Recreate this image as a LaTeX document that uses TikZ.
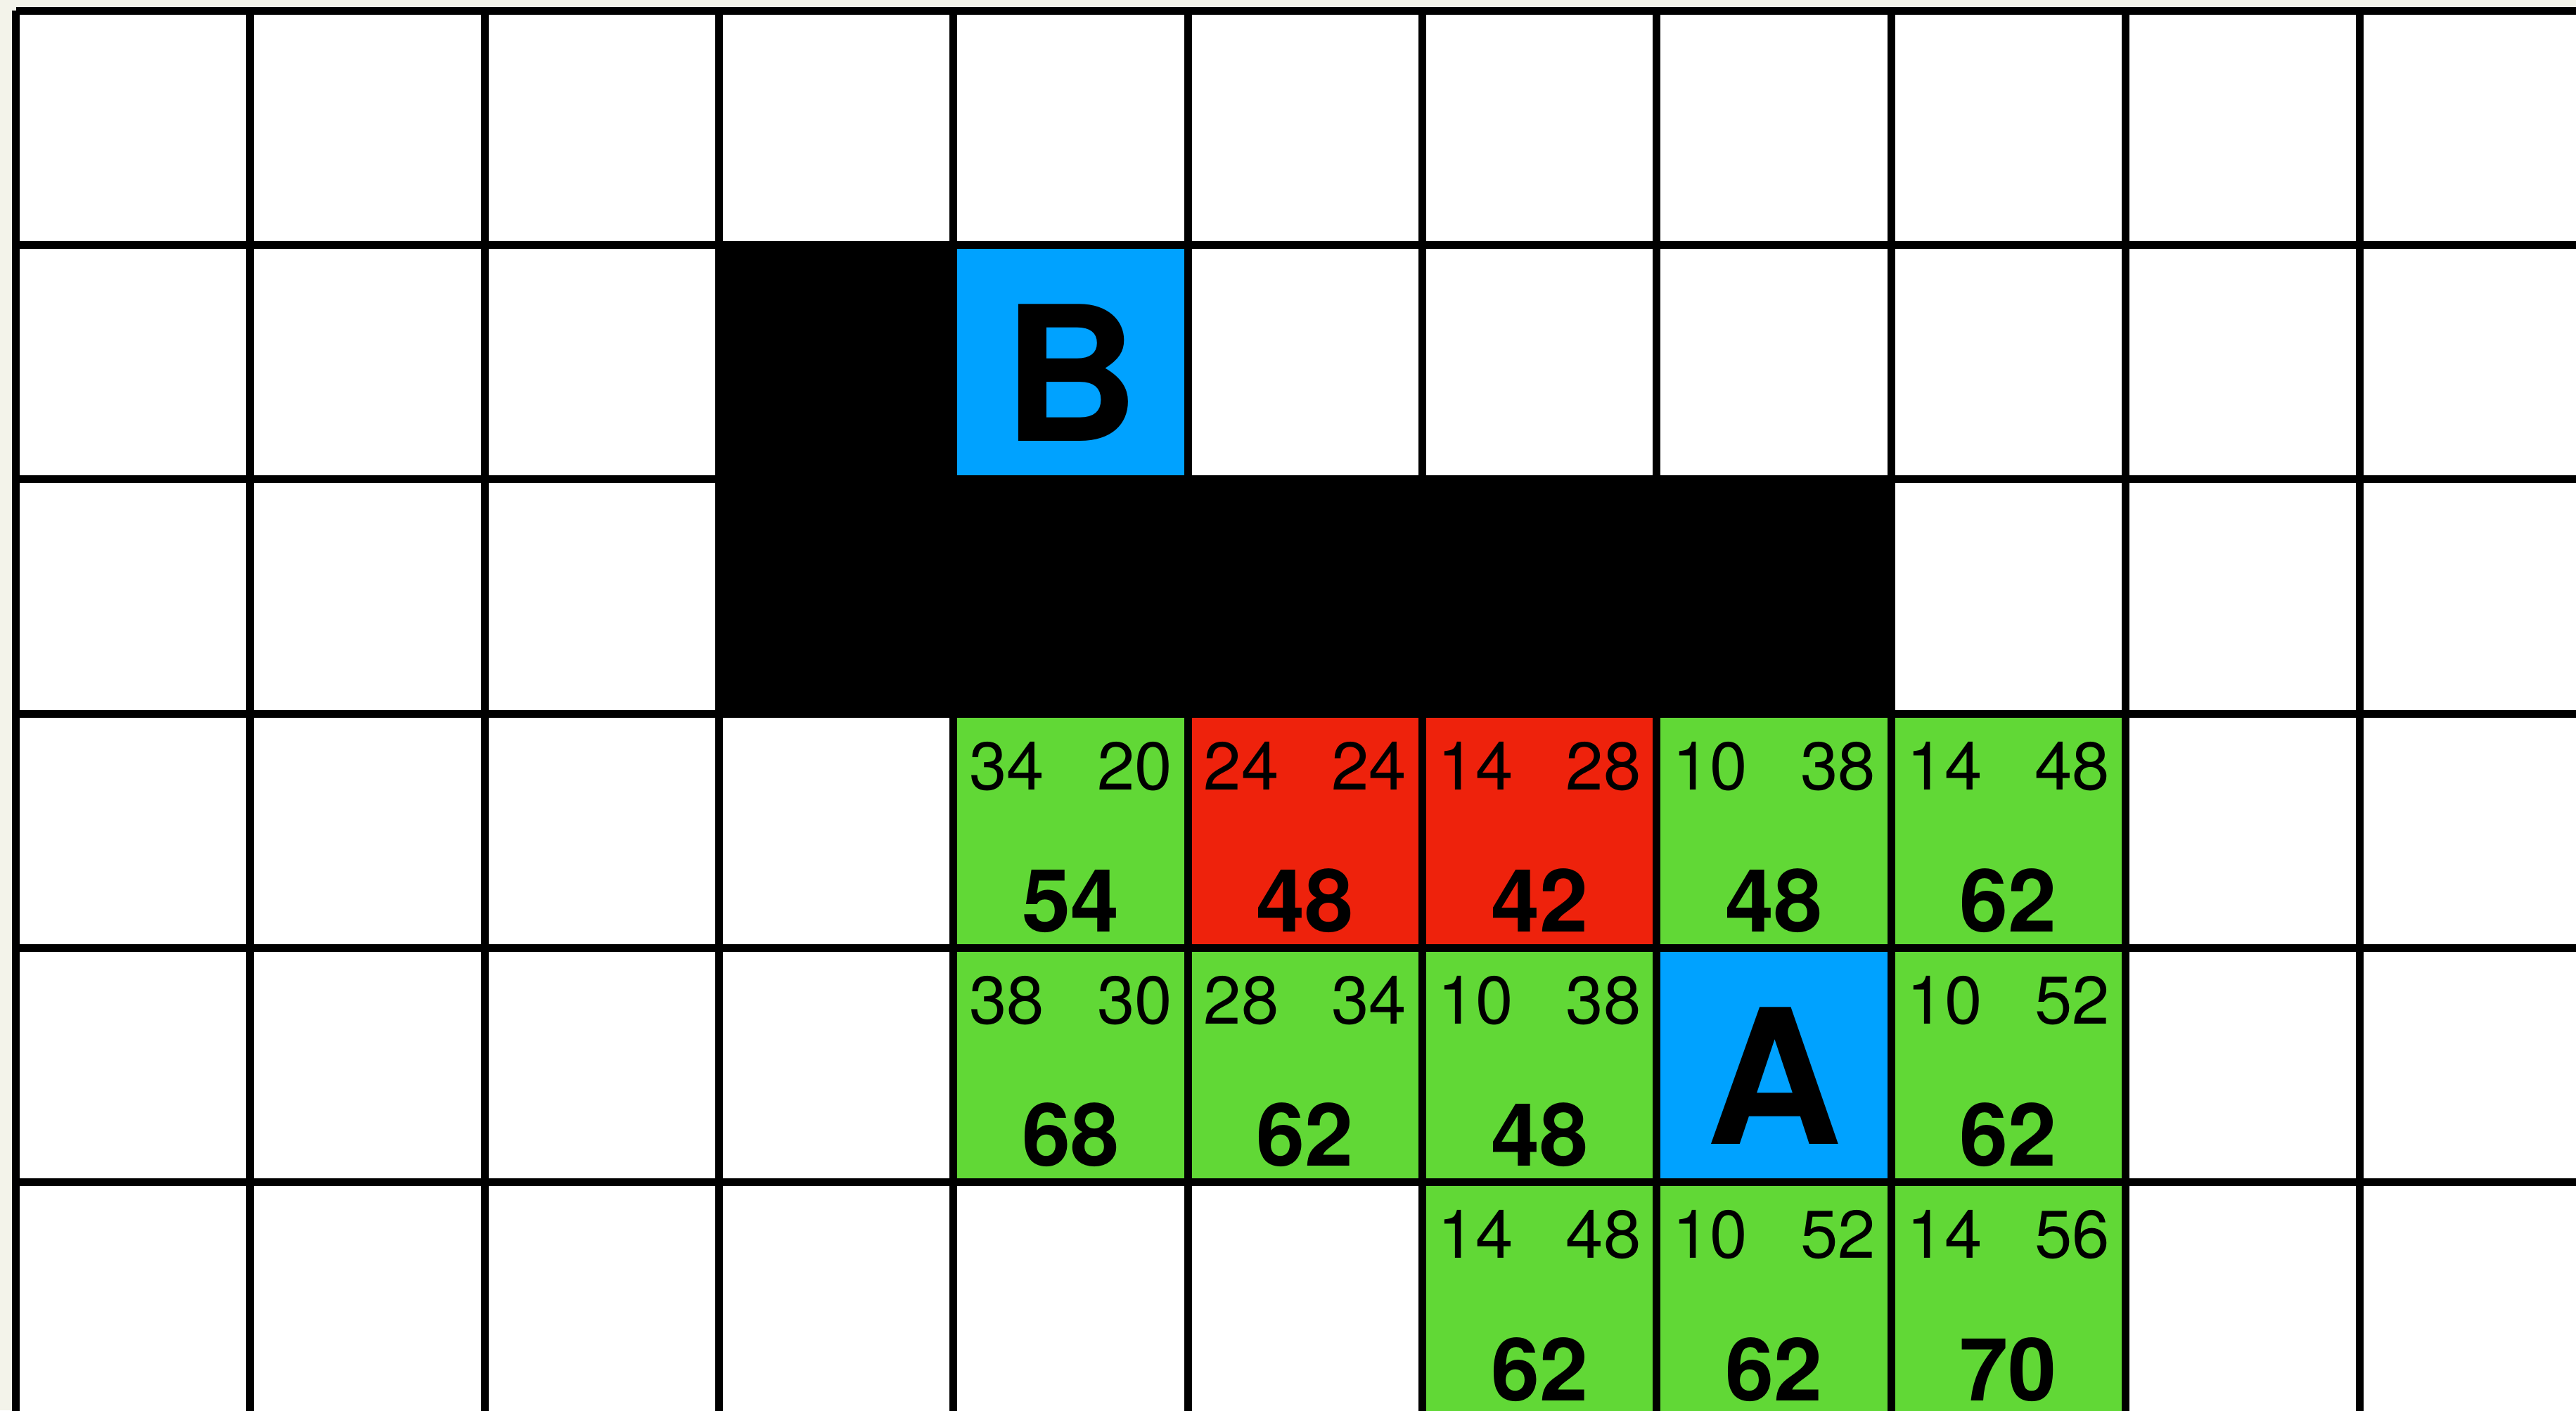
\documentclass[tikz,border=0pt]{standalone}
\usepackage{fontspec}
\setmainfont{TeX Gyre Heros}
\definecolor{cellgreen}{HTML}{61D836}
\definecolor{cellred}{HTML}{EE220C}
\definecolor{cellblue}{HTML}{00A2FF}
\definecolor{paper}{HTML}{F3F3EA}
\tikzset{
  gridline/.style={line width=0.94pt, black},
  costsmall/.style={inner sep=0pt, font=\fontsize{8.2pt}{9pt}\selectfont},
  costbig/.style={inner sep=0pt, anchor=base, font=\fontsize{10.6pt}{12pt}\selectfont\bfseries},
  endletter/.style={inner sep=0pt, anchor=base, font=\fontsize{22.8pt}{26pt}\selectfont\bfseries}
}
\begin{document}
\begin{tikzpicture}[x=1cm,y=-1cm]
\useasboundingbox (-0.0675,-0.045) rectangle (10.921,5.973);
\clip (-0.0675,-0.045) rectangle (10.921,5.973);
\fill[paper] (-0.0675,-0.045) rectangle (10.921,5.973);
\fill[white] (0,0) rectangle (11.5,6.5);
% walls
\fill[black] (3,1) rectangle (4,2);
\fill[black] (3,2) rectangle (8,3);
% start and goal
\fill[cellblue] (4,1) rectangle (5,2);
\fill[cellblue] (7,4) rectangle (8,5);
% scored cells
\foreach \c/\r/\col/\g/\h/\f in {
  4/3/cellgreen/34/20/54, 5/3/cellred/24/24/48, 6/3/cellred/14/28/42,
  7/3/cellgreen/10/38/48, 8/3/cellgreen/14/48/62,
  4/4/cellgreen/38/30/68, 5/4/cellgreen/28/34/62, 6/4/cellgreen/10/38/48,
  8/4/cellgreen/10/52/62,
  6/5/cellgreen/14/48/62, 7/5/cellgreen/10/52/62, 8/5/cellgreen/14/56/70}
{
  \fill[\col] (\c,\r) rectangle ++(1,1);
  \node[costsmall, anchor=base west] (g\c\r) at ({\c+0.06},{\r+0.324}) {\g};
  \node[costsmall, anchor=base east] (h\c\r) at ({\c+0.94},{\r+0.324}) {\h};
  \node[costbig] (f\c\r) at ({\c+0.5},{\r+0.931}) {\f};
}
% grid
\foreach \i in {0,...,11} \draw[gridline] (\i,0) -- (\i,6.5);
\foreach \j in {0,...,6} \draw[gridline] (0,\j) -- (11.5,\j);
% labels
\node[endletter] (lB) at (4.5,1.837) {B};
\node[endletter] (lA) at (7.5,4.837) {A};
\end{tikzpicture}
\end{document}
